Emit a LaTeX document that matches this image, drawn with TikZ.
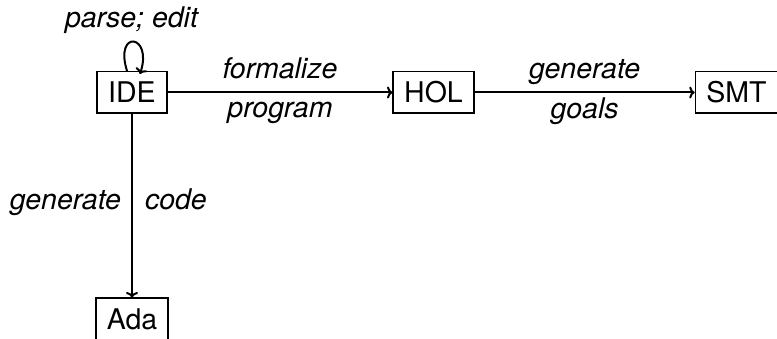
\documentclass[tikz,border=0pt]{standalone}
\usepackage{fontspec}
\setmainfont{TeX Gyre Heros}
\usetikzlibrary{arrows.meta}
\tikzset{
  stage/.style={draw, line width=1.5pt, inner xsep=11pt, inner ysep=10.5pt,
    text height=20.5pt, text depth=0pt, font=\fontsize{28.5}{34}\selectfont},
  flow/.style={line width=2pt, -{To[length=5.5pt,width=12pt]}},
  lbl/.style={font=\fontsize{28.5}{34}\selectfont\itshape, inner sep=0pt},
}
\begin{document}
\begin{tikzpicture}[x=1pt, y={(0,-1pt)}]
  \useasboundingbox (0,0) rectangle (777,339);
  % stages of the tool chain
  \node[stage] (ide) at (132,92.5) {IDE};
  \node[stage] (hol) at (433.5,92.5) {HOL};
  \node[stage] (smt) at (736.5,92.5) {SMT};
  \node[stage] (ada) at (132,319) {Ada};

  % self loop on the editor
  \draw[flow] ([xshift=-5pt]ide.north) .. controls +(-13,-42) and +(13,-40) .. ([xshift=8pt,yshift=-3pt]ide.north);
  \node[lbl, anchor=base] (loopl) at (131.5,28) {parse; edit};

  % horizontal chain
  \draw[flow] (ide) -- (hol)
    node[lbl, midway, anchor=base, yshift=13.5pt] {formalize}
    node[lbl, midway, anchor=base, yshift=-25pt] {program};
  \draw[flow] (hol) -- (smt)
    node[lbl, midway, anchor=base, yshift=13.5pt] {generate}
    node[lbl, midway, anchor=base, yshift=-26pt] {goals};

  % code generation
  \draw[flow] (ide) -- (ada)
    node[lbl, pos=0.52, anchor=base east, xshift=-10pt] {generate}
    node[lbl, pos=0.52, anchor=base west, xshift=12pt] {code};
\end{tikzpicture}
\end{document}
